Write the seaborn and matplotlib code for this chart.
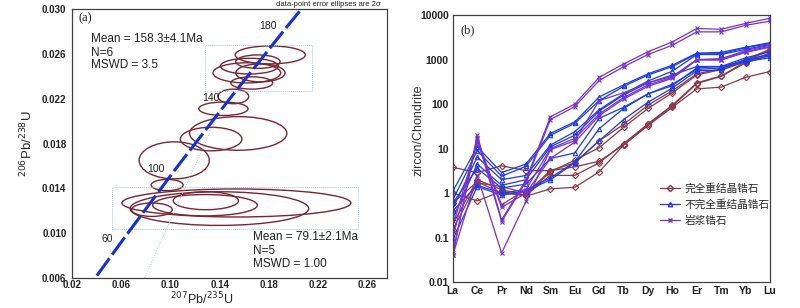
import numpy as np
import pandas as pd
import matplotlib
matplotlib.use("Agg")
import matplotlib.pyplot as plt
from matplotlib.patches import Ellipse, Rectangle
from matplotlib.lines import Line2D
from matplotlib.ticker import FuncFormatter, NullLocator
import seaborn as sns

# ---- (a) concordia data ----
conc_age = [40, 60, 100, 140, 180, 200]
conc_x = [0.0402, 0.0609, 0.1034, 0.1478, 0.1939, 0.2177]
conc_y = [0.00622, 0.00935, 0.01563, 0.02195, 0.02832, 0.03151]
label_ages = [60, 100, 140, 180]

# faint envelope line
env_x = [0.079, 0.140]
env_y = [0.006, 0.0210]

# error ellipses (centre x, centre y, full width, full height)
ell_x = [0.181, 0.171, 0.164, 0.162, 0.173, 0.166, 0.151, 0.143, 0.155, 0.133, 0.103, 0.0973,
         0.1535, 0.1397, 0.1287, 0.128, 0.0849]
ell_y = [0.0259, 0.0253, 0.0249, 0.0243, 0.0243, 0.0234, 0.0222, 0.0211, 0.0189, 0.0184, 0.0165, 0.0143,
         0.0127, 0.0122, 0.0129, 0.0125, 0.0121]
ell_w = [0.057, 0.036, 0.047, 0.055, 0.040, 0.034, 0.025, 0.040, 0.079, 0.050, 0.057, 0.026,
         0.186, 0.145, 0.053, 0.085, 0.033]
ell_h = [0.0016, 0.0012, 0.0014, 0.0018, 0.0016, 0.0011, 0.0013, 0.0012, 0.0030, 0.0021, 0.0033, 0.0010,
         0.0025, 0.0030, 0.0016, 0.0019, 0.0012]

# dotted boxes around the two groups (x0, y0, x1, y1)
box_upper = [0.128, 0.0227, 0.215, 0.0268]
box_lower = [0.0526, 0.01035, 0.252, 0.01415]

# ---- (b) REE chondrite-normalised patterns ----
elements = ["La", "Ce", "Pr", "Nd", "Sm", "Eu", "Gd", "Tb", "Dy", "Ho", "Er", "Tm", "Yb", "Lu"]

red_1 = [1.0, 0.67, 1.1, 0.85, 1.25, 1.35, 3.0, 12, 33, 85, 220, 240, 400, 540]
red_2 = [3.8, 2.9, 4.1, 3.2, 3.2, 3.9, 5.2, 12, 35, 90, 290, 420, 850, 1250]
red_3 = [0.6, 1.8, 1.0, 0.9, 2.5, 2.5, 4.8, 13, 36, 95, 300, 430, 900, 1400]
red_4 = [0.2, 2.0, 1.2, 0.9, 3.0, 5.5, 10.5, 30, 80, 180, 450, 600, 950, 1600]
red_5 = [0.15, 1.7, 1.4, 1.0, 3.2, 4.8, 15, 35, 95, 200, 480, 620, 1000, 1700]

blue_1 = [1.1, 11, 2.9, 4.5, 22, 40, 145, 270, 480, 750, 1400, 1450, 1900, 2400]
blue_2 = [0.7, 9, 2.4, 4.0, 20, 37, 120, 250, 450, 700, 1350, 1350, 1850, 2300]
blue_3 = [0.45, 6.5, 2.0, 2.5, 12, 24, 75, 170, 330, 550, 1300, 1300, 1700, 2200]
blue_4 = [0.27, 4.5, 1.5, 2.0, 11, 20, 70, 160, 300, 450, 700, 700, 1100, 1500]
blue_5 = [0.6, 3.6, 1.3, 1.6, 6, 8, 48, 85, 170, 280, 600, 650, 1000, 1300]
blue_6 = [0.4, 1.5, 1.0, 1.2, 2.2, 5, 28, 80, 170, 260, 650, 700, 950, 1200]
blue_7 = [0.09, 1.4, 0.9, 1.1, 2.0, 4.8, 15, 45, 110, 230, 560, 580, 900, 1100]

purple_1 = [0.04, 20, 0.25, 2.0, 52, 100, 400, 800, 1500, 2500, 5000, 4800, 6500, 8500]
purple_2 = [0.045, 17, 0.23, 1.8, 45, 88, 340, 690, 1300, 2100, 4200, 4200, 5900, 7300]
purple_3 = [0.1, 16, 0.55, 1.2, 10, 17, 60, 140, 270, 400, 1000, 1000, 1500, 2000]
purple_4 = [0.18, 14, 0.48, 1.0, 6, 14, 55, 130, 250, 380, 980, 980, 1450, 1900]
purple_5 = [0.04, 2.5, 0.045, 0.65, 9.5, 15, 120, 180, 300, 420, 1000, 1050, 1600, 2100]

group_names = ["完全重结晶锆石", "不完全重结晶锆石", "岩浆锆石"]
group_series = [
    [red_1, red_2, red_3, red_4, red_5],
    [blue_1, blue_2, blue_3, blue_4, blue_5, blue_6, blue_7],
    [purple_1, purple_2, purple_3, purple_4, purple_5],
]
group_colors = ["#8a3848", "#1c3ce6", "#7a30d0"]
group_markers = ["D", "^", "x"]

sns.set_theme(style="white")
plt.rcParams["font.family"] = ["Liberation Sans", "Noto Sans CJK SC", "DejaVu Sans"]
plt.rcParams["axes.edgecolor"] = "#404040"
plt.rcParams["axes.linewidth"] = 0.9

fig = plt.figure(figsize=(8, 3.08), dpi=100)
ax1 = fig.add_axes([0.09, 0.097, 0.394, 0.874])
ax2 = fig.add_axes([0.566, 0.084, 0.3965, 0.867])

# ================= (a) =================
ell_color = "#7a2630"
for x, y, w, h in zip(ell_x, ell_y, ell_w, ell_h):
    ax1.add_patch(Ellipse((x, y), w, h, fill=False, ec=ell_color, lw=1.0))

for b in [box_upper, box_lower]:
    ax1.add_patch(Rectangle((b[0], b[1]), b[2] - b[0], b[3] - b[1], fill=False,
                            ec="#a9c8e8", lw=0.7, ls=(0, (1, 1))))

ax1.plot(env_x, env_y, color="#a9c8e8", lw=0.7, ls=(0, (1, 1.5)))
sns.lineplot(x=conc_x, y=conc_y, ax=ax1, sort=False, color="#1530d8", lw=2.2, legend=False)
ax1.lines[-1].set_dashes((7, 1.5))

for age in label_ages:
    i = conc_age.index(age)
    ax1.annotate(str(age), (conc_x[i], conc_y[i]), xytext=(-7, 1), textcoords="offset points",
                 ha="right", va="center", fontsize=7.5, color="#222222")

ax1.set_xlim(0.02, 0.276)
ax1.set_ylim(0.006, 0.030)
ax1.set_xticks(np.arange(0.02, 0.27, 0.04))
ax1.set_yticks(np.arange(0.006, 0.0301, 0.004))
ax1.xaxis.set_major_formatter(FuncFormatter(lambda v, p: f"{v:.2f}"))
ax1.yaxis.set_major_formatter(FuncFormatter(lambda v, p: f"{v:.3f}"))
ax1.tick_params(direction="in", length=2, width=0.6, color="#888888", labelsize=7, pad=4)
ax1.tick_params(axis="x", pad=1.5)
for lab in ax1.get_xticklabels() + ax1.get_yticklabels():
    lab.set_fontweight("bold")
    lab.set_color("#222222")

ax1.set_xlabel(r"$^{207}$Pb/$^{235}$U", fontsize=9, labelpad=0)
ax1.set_ylabel(r"$^{206}$Pb/$^{238}$U", fontsize=9.5, labelpad=2)
ax1.xaxis.set_label_coords(0.41, -0.046)
ax1.yaxis.set_label_coords(-0.115, 0.5)

ax1.text(0.0249, 0.0292, "(a)", family="Liberation Serif", fontsize=9, va="center", color="#222222")
ax1.text(0.98, 1.004, "data-point error ellipses are 2σ", transform=ax1.transAxes,
         ha="right", va="bottom", fontsize=5.5, color="#222222")

txt_kw = dict(fontsize=8.5, va="center", color="#222222")
ax1.text(0.0352, 0.02735, "Mean = 158.3±4.1Ma", **txt_kw)
ax1.text(0.0352, 0.02611, "N=6", **txt_kw)
ax1.text(0.0352, 0.02496, "MSWD = 3.5", **txt_kw)
ax1.text(0.1673, 0.00963, "Mean = 79.1±2.1Ma", **txt_kw)
ax1.text(0.1673, 0.00845, "N=5", **txt_kw)
ax1.text(0.1673, 0.00724, "MSWD = 1.00", **txt_kw)

# ================= (b) =================
rows = []
for gname, series in zip(group_names, group_series):
    for k, vals in enumerate(series):
        for el, v in zip(elements, vals):
            rows.append({"element": el, "value": v, "group": gname, "sample": f"{gname}_{k}"})
df = pd.DataFrame(rows)

for gname, c, m in zip(group_names, group_colors, group_markers):
    sub = df[df["group"] == gname]
    sns.lineplot(data=sub, x="element", y="value", units="sample", estimator=None, sort=False,
                 color=c, marker=m, lw=0.9, markersize=3.2, legend=False, ax=ax2)
for ln in ax2.lines:
    c = ln.get_color()
    ln.set_markeredgecolor(c)
    ln.set_markerfacecolor("none")
    ln.set_markeredgewidth(0.8)

ax2.set_yscale("log")
ax2.set_ylim(0.01, 10000)
ax2.set_xlim(0, 13)
ax2.set_yticks([0.01, 0.1, 1, 10, 100, 1000, 10000])
ax2.yaxis.set_major_formatter(FuncFormatter(lambda v, p: f"{v:g}"))
ax2.yaxis.set_minor_locator(NullLocator())
ax2.tick_params(direction="in", length=2, width=0.6, color="#888888", labelsize=7.5, pad=3)
for lab in ax2.get_xticklabels() + ax2.get_yticklabels():
    lab.set_fontweight("bold")
    lab.set_color("#222222")
ax2.set_xlabel("")
ax2.set_ylabel("zircon/Chondrite", fontsize=9, color="#333333")
ax2.yaxis.set_label_coords(-0.09, 0.57)
ax2.text(0.025, 0.965, "(b)", transform=ax2.transAxes, family="Liberation Serif",
         fontsize=9, va="top", color="#222222")

handles = [Line2D([0], [0], color=c, marker=m, markersize=3.2, mfc="none", mec=c, lw=0.9)
           for c, m in zip(group_colors, group_markers)]
ax2.legend(handles, group_names, loc="upper left", bbox_to_anchor=(0.64, 0.385), frameon=False,
           prop={"family": "Noto Sans CJK SC", "size": 7.7}, handlelength=1.9,
           handletextpad=0.4, labelspacing=0.5, borderaxespad=0)

fig.savefig("out.png", dpi=100)
